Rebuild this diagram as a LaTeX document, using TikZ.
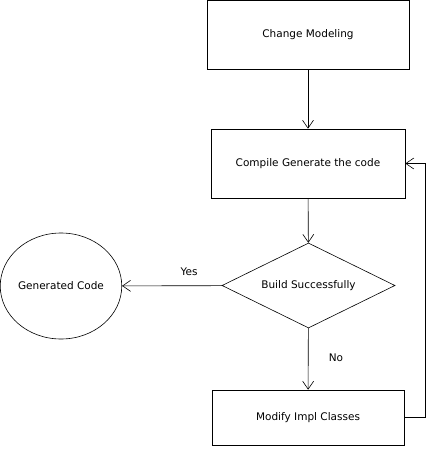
\documentclass[tikz,border=0pt]{standalone}
\usepackage{fontspec}
\setmainfont{DejaVu Sans}
\usepackage{tikz}
\usetikzlibrary{shapes.geometric,arrows.meta}

\begin{document}
\begin{tikzpicture}[x=1pt,y=-1pt,line width=0.6pt,
    every node/.style={draw,font=\fontsize{10.5}{12}\selectfont,inner sep=0pt},
    stepbox/.style={shape=rectangle},
    flow/.style={-{Straight Barb[length=8pt,width=11pt,line width=0.6pt]}}]

  \useasboundingbox (0,0) rectangle (426,455);

  % Specification of nodes (position, etc.)
  \node[stepbox,minimum width=202pt,minimum height=69pt] (change) at (308,34.5) {Change Modeling};
  \node[stepbox,minimum width=194pt,minimum height=69pt] (compile) at (308,163.5) {Compile Generate the code\hspace{16pt}};
  \node[shape=diamond,aspect=2.04,minimum width=173pt,minimum height=85pt] (build) at (308.5,285.5) {Build Successfully};
  \node[shape=ellipse,minimum width=120pt,minimum height=106pt] (gen) at (61,286) {Generated Code};
  \node[stepbox,minimum width=192pt,minimum height=55pt] (modify) at (308,417.5) {Modify Impl Classes};
  \coordinate (back) at (425.5,0);

  \begin{scope}[flow]
    \tikzstyle{every node}=[draw=none,font=\fontsize{10.5}{12}\selectfont]
    \draw (change) to (compile);
    \draw (compile) to (build);
    \draw (build) -- node[pos=0.33,above=6pt] {Yes} (gen);
    \draw (build) -- node[pos=0.48,right=17pt] {No} (modify);
    \draw (modify.east) -- (modify.east -| back) -- (compile.east -| back) -- (compile.east);
  \end{scope}

\end{tikzpicture}
\end{document}
